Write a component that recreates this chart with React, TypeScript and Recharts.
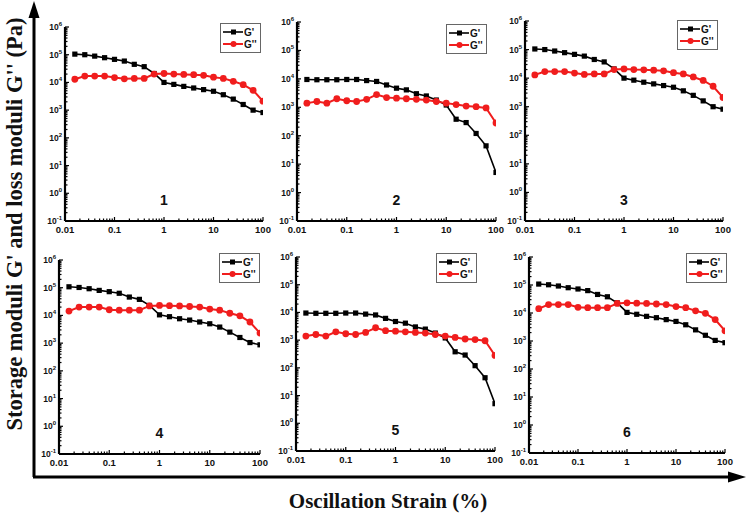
import React from 'react';
import { LineChart, Line, XAxis, YAxis, Legend, ReferenceDot } from 'recharts';

// strain values (%), 5 points per decade
const STRAIN = [0.0158, 0.0251, 0.0398, 0.0631, 0.1, 0.158, 0.251, 0.398, 0.631, 1, 1.58, 2.51, 3.98, 6.31, 10, 15.8, 25.1, 39.8, 63.1, 100];

// samples 1, 3
const STORAGE_A = [1.05e5, 1.0e5, 8.9e4, 7.8e4, 6.8e4, 5.9e4, 4.5e4, 3.7e4, 2.1e4, 1.0e4, 8.5e3, 7.2e3, 6.3e3, 5.5e3, 4.8e3, 3.6e3, 2.5e3, 1.6e3, 1.0e3, 8.2e2];
const LOSS_A = [1.3e4, 1.7e4, 1.7e4, 1.7e4, 1.5e4, 1.35e4, 1.4e4, 1.4e4, 2.0e4, 2.1e4, 2.0e4, 1.95e4, 1.9e4, 1.8e4, 1.55e4, 1.4e4, 1.1e4, 8.3e3, 5.2e3, 2.1e3];

// samples 2, 5
const STORAGE_B = [9.5e3, 9.3e3, 9.3e3, 9.3e3, 9.5e3, 9.5e3, 8.7e3, 8.1e3, 6.1e3, 4.7e3, 4.1e3, 3.0e3, 2.5e3, 1.8e3, 1.2e3, 3.8e2, 2.9e2, 1.2e2, 4.4e1, 5.1];
const LOSS_B = [1.4e3, 1.6e3, 1.4e3, 2.0e3, 1.7e3, 1.6e3, 1.9e3, 2.8e3, 2.2e3, 2.1e3, 2.0e3, 1.9e3, 1.8e3, 1.6e3, 1.4e3, 1.25e3, 1.1e3, 1.05e3, 9.5e2, 2.8e2];

// samples 4, 6
const STORAGE_C = [1.08e5, 1.02e5, 9.2e4, 8.0e4, 7.2e4, 6.3e4, 4.6e4, 3.8e4, 2.3e4, 1.05e4, 9.0e3, 7.6e3, 6.8e3, 5.8e3, 5.0e3, 3.8e3, 2.5e3, 1.6e3, 1.05e3, 8.7e2];
const LOSS_C = [1.43e4, 2.0e4, 2.0e4, 2.0e4, 1.6e4, 1.55e4, 1.55e4, 1.55e4, 2.2e4, 2.3e4, 2.25e4, 2.2e4, 2.1e4, 2.0e4, 1.7e4, 1.55e4, 1.2e4, 9.7e3, 5.8e3, 2.3e3];

const X_MAJOR = [0.01, 0.1, 1, 10, 100];
const Y_MAJOR = [0.1, 1, 10, 100, 1e3, 1e4, 1e5, 1e6];
const X_LABELS = ['0.01', '0.1', '1', '10', '100'];

const RED = '#f01d1d';
const TICK_FONT = '"Liberation Sans", Arial, sans-serif';
const SERIF = '"Liberation Serif", "Times New Roman", serif';

function withMinors(majors: number[]) {
  const out: number[] = [];
  majors.forEach((m, i) => {
    out.push(m);
    if (i < majors.length - 1) for (let d = 2; d <= 9; d++) out.push(+(m * d).toPrecision(3));
  });
  return out;
}
const X_TICKS = withMinors(X_MAJOR);
const Y_TICKS = withMinors(Y_MAJOR);

const isMajor = (v: number) => Math.abs(Math.log10(v) - Math.round(Math.log10(v))) < 1e-6;

function XTick({ x, y, payload }: any) {
  const v = payload.value;
  const major = isMajor(v);
  const idx = X_MAJOR.findIndex(m => Math.abs(m - v) < 1e-9);
  return (
    <g>
      <line x1={x} x2={x} y1={y} y2={y - (major ? 4 : 2.5)} stroke="#000" strokeWidth={1.2} />
      {major && (
        <text x={x} y={y + 12} textAnchor="middle" fontFamily={TICK_FONT} fontWeight="bold" fontSize={9.5} fill="#111">
          {X_LABELS[idx]}
        </text>
      )}
    </g>
  );
}

function YTick({ x, y, payload }: any) {
  const v = payload.value;
  const major = isMajor(v);
  const exp = Math.round(Math.log10(v));
  return (
    <g>
      <line x1={x} x2={x + (major ? 4 : 2.5)} y1={y} y2={y} stroke="#000" strokeWidth={1.2} />
      {major && (
        <text x={x - 3} y={y + 3} textAnchor="end" fontFamily={TICK_FONT} fontWeight="bold" fontSize={8.5} fill="#111">
          <tspan>10</tspan>
          <tspan dy={-4} fontSize={6}>{exp}</tspan>
        </text>
      )}
    </g>
  );
}

function LegendBox() {
  const row = (color: string, square: boolean, label: string) => (
    <div style={{ display: 'flex', alignItems: 'center', height: 12 }}>
      <svg width={20} height={8}>
        <line x1={0} y1={4} x2={20} y2={4} stroke={color} strokeWidth={square ? 1.6 : 2} />
        {square ? <rect x={8} y={1.5} width={5} height={5} fill={color} /> : <circle cx={10.5} cy={4} r={3} fill={color} />}
      </svg>
      <span style={{ marginLeft: 1 }}>{label}</span>
    </div>
  );
  return (
    <div style={{ border: '1px solid #666', background: '#fff', padding: '2px 3px 2px 2px', fontFamily: TICK_FONT, fontWeight: 'bold', fontSize: 10, color: '#111', width: 'max-content' }}>
      {row('#000', true, "G'")}
      {row(RED, false, "G''")}
    </div>
  );
}

type Panel = { label: string; left: number; top: number; w: number; h: number; storage: number[]; loss: number[]; legend: [number, number] };

const PANELS: Panel[] = [
  { label: '1', left: 65, top: 27, w: 198, h: 194, storage: STORAGE_A, loss: LOSS_A, legend: [220, 23] },
  { label: '2', left: 297, top: 22, w: 199, h: 199, storage: STORAGE_B, loss: LOSS_B, legend: [446, 24] },
  { label: '3', left: 525, top: 21, w: 198, h: 200, storage: STORAGE_A, loss: LOSS_A, legend: [677, 20] },
  { label: '4', left: 59, top: 260, w: 201, h: 194, storage: STORAGE_C, loss: LOSS_C, legend: [219, 253] },
  { label: '5', left: 296, top: 257, w: 199, h: 194, storage: STORAGE_B, loss: LOSS_B, legend: [436, 253] },
  { label: '6', left: 529, top: 257, w: 196, h: 196, storage: STORAGE_C, loss: LOSS_C, legend: [686, 253] },
];

const Y_W = 40;
const M_TOP = 10;
const M_RIGHT = 15;
const X_H = 25;

function SquareDot(p: any) {
  if (p.cx == null || p.cy == null) return <g key={p.index} />;
  return <rect key={p.index} x={p.cx - 2.6} y={p.cy - 2.6} width={5.2} height={5.2} fill="#000" />;
}
function RoundDot(p: any) {
  if (p.cx == null || p.cy == null) return <g key={p.index} />;
  return <circle key={p.index} cx={p.cx} cy={p.cy} r={3.4} fill={RED} />;
}

function PanelChart({ panel }: { panel: Panel }) {
  const data = STRAIN.map((s, i) => ({ strain: s, gp: panel.storage[i], gpp: panel.loss[i] }));
  const cl = panel.left - Y_W;
  const ct = panel.top - M_TOP;
  return (
    <div style={{ position: 'absolute', left: cl, top: ct }}>
      <LineChart width={Y_W + panel.w + M_RIGHT} height={M_TOP + panel.h + X_H} data={data} margin={{ top: M_TOP, right: M_RIGHT, left: 0, bottom: 0 }}>
        <XAxis dataKey="strain" type="number" scale="log" domain={[0.01, 100]} ticks={X_TICKS} interval={0} tickSize={0} tickMargin={0} tick={<XTick />} height={X_H} axisLine={{ stroke: '#000', strokeWidth: 2.2 }} allowDataOverflow />
        <YAxis type="number" scale="log" domain={[0.1, 1e6]} ticks={Y_TICKS} interval={0} tickSize={0} tickMargin={0} tick={<YTick />} width={Y_W} axisLine={{ stroke: '#000', strokeWidth: 2.2 }} allowDataOverflow />
        <Line dataKey="gp" stroke="#000" strokeWidth={1.6} dot={SquareDot} activeDot={false} isAnimationActive={false} />
        <Line dataKey="gpp" stroke={RED} strokeWidth={2} dot={RoundDot} activeDot={false} isAnimationActive={false} />
        <ReferenceDot x={1} y={0.56} r={0} fill="none" stroke="none" label={{ value: panel.label, position: 'center', fill: '#111', fontSize: 14, fontWeight: 'bold', fontFamily: TICK_FONT }} />
        <Legend layout="vertical" align="center" verticalAlign="middle" content={<LegendBox />} wrapperStyle={{ left: panel.legend[0] - cl, top: panel.legend[1] - ct, width: 'auto' }} />
      </LineChart>
    </div>
  );
}

export default function App() {
  return (
    <div style={{ position: 'absolute', left: 0, top: 0, width: 748, height: 515, background: '#fff', overflow: 'hidden' }}>
      <svg width={748} height={515} style={{ position: 'absolute', left: 0, top: 0 }}>
        <line x1={34} y1={14} x2={34} y2={477} stroke="#000" strokeWidth={3} />
        <polygon points="28.5,18 39.5,18 34,1" fill="#000" />
        <line x1={33} y1={477} x2={730} y2={477} stroke="#000" strokeWidth={3} />
        <polygon points="728,471.5 728,482.5 746,477" fill="#000" />
        <text transform="translate(22,224) rotate(-90)" textAnchor="middle" fontFamily={SERIF} fontWeight="bold" fontSize={22.5} fill="#111">
          Storage moduli G' and loss moduli G'' (Pa)
        </text>
        <text x={388} y={508} textAnchor="middle" fontFamily={SERIF} fontWeight="bold" fontSize={21} fill="#111">
          Oscillation Strain (%)
        </text>
      </svg>
      {PANELS.map(p => (
        <PanelChart key={p.label} panel={p} />
      ))}
    </div>
  );
}
